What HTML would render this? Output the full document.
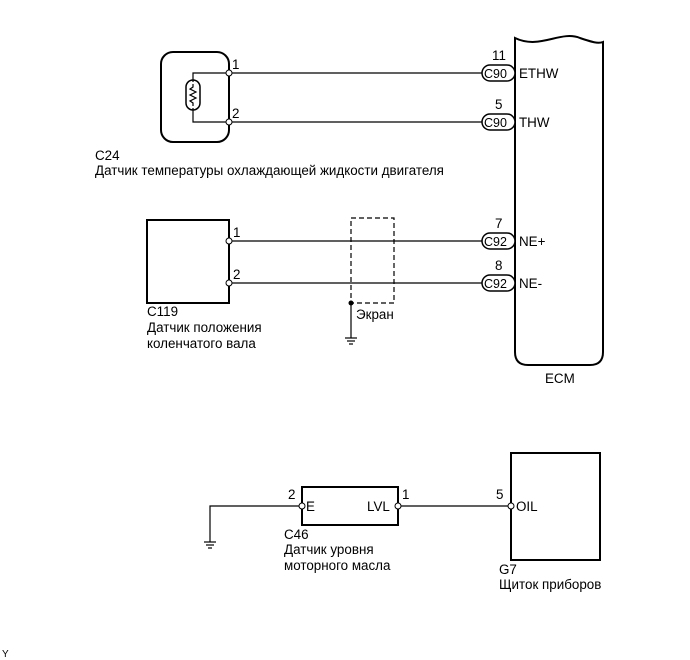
<!DOCTYPE html>
<html><head><meta charset="utf-8"><style>
html,body{margin:0;padding:0;background:#fff;}
svg{display:block;}
text{font-family:"Liberation Sans",sans-serif;font-size:13.4px;fill:#000;}
text.p{font-size:12.5px;}
</style></head><body>
<svg width="690" height="660" viewBox="0 0 690 660" xmlns="http://www.w3.org/2000/svg">
<g fill="none" stroke="#000" stroke-width="1.2">
<path d="M515,38 C540,50 560,30 580,38 C592,42 598,44 603,42 L603,352 Q603,365 590,365 L528,365 Q515,365 515,352 Z" stroke-width="2"/>
<rect x="161" y="52" width="68" height="90" rx="12" stroke-width="2"/>
<line x1="229" y1="73" x2="483" y2="73"/>
<line x1="229" y1="122" x2="483" y2="122"/>
<polyline points="229,73 193,73 193,82"/>
<polyline points="229,122 193,122 193,108"/>
<rect x="186" y="80" width="14" height="30" rx="7" stroke-width="1.5"/>
<polyline points="193,84 193,87 190,89 196,92 190,95 196,98 190,101 193,103 193,106"/>
<rect x="482" y="65" width="33" height="16" rx="8" stroke-width="1.5" fill="#fff"/>
<rect x="482" y="114" width="33" height="16" rx="8" stroke-width="1.5" fill="#fff"/>
<rect x="147" y="220" width="82" height="83" stroke-width="2"/>
<line x1="229" y1="241" x2="483" y2="241"/>
<line x1="229" y1="283" x2="483" y2="283"/>
<rect x="482" y="233" width="33" height="16" rx="8" stroke-width="1.5" fill="#fff"/>
<rect x="482" y="275" width="33" height="16" rx="8" stroke-width="1.5" fill="#fff"/>
<rect x="351" y="218" width="43" height="85" stroke-dasharray="5,3"/>
<line x1="351" y1="303" x2="351" y2="338"/>
<line x1="345" y1="338" x2="357" y2="338"/>
<line x1="347" y1="341" x2="355" y2="341"/>
<line x1="349" y1="344" x2="353" y2="344"/>
<rect x="302" y="487" width="96" height="38" stroke-width="2"/>
<polyline points="302,506 210,506 210,542"/>
<line x1="204" y1="542" x2="216" y2="542"/>
<line x1="206" y1="545" x2="214" y2="545"/>
<line x1="208" y1="548" x2="212" y2="548"/>
<line x1="398" y1="506" x2="511" y2="506"/>
<rect x="511" y="453" width="89" height="107" stroke-width="2"/>
</g>
<g fill="#fff" stroke="#000" stroke-width="1">
<circle cx="229" cy="73" r="3"/><circle cx="229" cy="122" r="3"/>
<circle cx="229" cy="241" r="3"/><circle cx="229" cy="283" r="3"/>
<circle cx="302" cy="506" r="3"/><circle cx="398" cy="506" r="3"/>
<circle cx="511" cy="506" r="3"/>
</g>
<circle cx="351" cy="303" r="2.5" fill="#000"/>
<text x="232" y="69">1</text><text x="232" y="118">2</text>
<text x="233" y="237">1</text><text x="233" y="279">2</text>
<text x="492" y="60">11</text><text x="495" y="109">5</text>
<text x="495" y="228">7</text><text x="495" y="270">8</text>
<text class="p" x="484" y="78">C90</text><text class="p" x="484" y="127">C90</text>
<text class="p" x="484" y="246">C92</text><text class="p" x="484" y="288">C92</text>
<text x="519" y="78">ETHW</text><text x="519" y="127">THW</text>
<text x="519" y="246">NE+</text><text x="519" y="288">NE-</text>
<text x="545" y="383">ECM</text>
<text x="95" y="160">C24</text>
<text x="95" y="175">Датчик температуры охлаждающей жидкости двигателя</text>
<text x="147" y="316">C119</text>
<text x="147" y="332">Датчик положения</text>
<text x="147" y="348">коленчатого вала</text>
<text x="356" y="319">Экран</text>
<text x="288" y="499">2</text><text x="306" y="511">E</text>
<text x="367" y="511">LVL</text><text x="402" y="499">1</text>
<text x="284" y="539">C46</text>
<text x="284" y="554">Датчик уровня</text>
<text x="284" y="570">моторного масла</text>
<text x="496" y="499">5</text><text x="516" y="511">OIL</text>
<text x="499" y="574">G7</text>
<text x="499" y="589">Щиток приборов</text>
<text x="2" y="657" style="font-size:10px">Y</text>
</svg>
</body></html>
